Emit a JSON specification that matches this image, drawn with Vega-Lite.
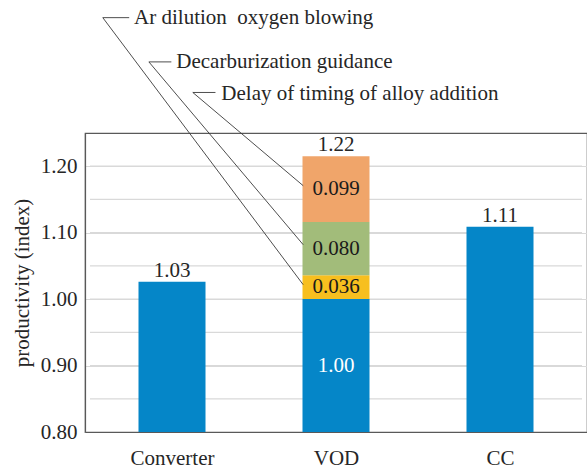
{
  "$schema": "https://vega.github.io/schema/vega-lite/v6.json",
  "width": 502,
  "height": 299,
  "autosize": {"type": "none"},
  "padding": {"left": 85, "top": 133, "right": 0, "bottom": 41},
  "background": "white",
  "config": {
    "font": "Liberation Serif",
    "view": {"stroke": "#595959", "strokeWidth": 1.2},
    "style": {
      "guide-label": {"font": "Liberation Serif", "fontSize": 21, "fill": "#262626"},
      "guide-title": {"font": "Liberation Serif", "fontSize": 21, "fontWeight": "normal", "fill": "#262626"}
    },
    "axis": {"labelFont": "Liberation Serif", "titleFont": "Liberation Serif", "labelFontSize": 21, "titleFontSize": 21, "titleFontWeight": "normal", "labelColor": "#262626", "titleColor": "#262626", "ticks": false, "domainColor": "#595959", "domainWidth": 1.2},
    "axisX": {"grid": false, "labelPadding": 15},
    "axisY": {"grid": true, "gridColor": "#d9d9d9", "gridWidth": 1.2, "labelOverlap": false, "labelPadding": 8, "titlePadding": 8},
    "text": {"font": "Liberation Serif", "fontSize": 21, "color": "#262626"}
  },
  "datasets": {
    "gridlines": [
      {"tick": 0.85}, {"tick": 0.9}, {"tick": 0.95}, {"tick": 1.0}, {"tick": 1.05},
      {"tick": 1.1}, {"tick": 1.15}, {"tick": 1.2}
    ],
    "bars": [
      {"process": "Converter", "segment": "base", "start": 0.8, "end": 1.026, "label": ""},
      {"process": "VOD", "segment": "base", "start": 0.8, "end": 1.0, "label": "1.00"},
      {"process": "VOD", "segment": "Ar dilution oxygen blowing", "start": 1.0, "end": 1.036, "label": "0.036"},
      {"process": "VOD", "segment": "Decarburization guidance", "start": 1.036, "end": 1.116, "label": "0.080"},
      {"process": "VOD", "segment": "Delay of timing of alloy addition", "start": 1.116, "end": 1.215, "label": "0.099"},
      {"process": "CC", "segment": "base", "start": 0.8, "end": 1.109, "label": ""}
    ],
    "totals": [
      {"process": "Converter", "total": 1.026, "label": "1.03"},
      {"process": "VOD", "total": 1.215, "label": "1.22"},
      {"process": "CC", "total": 1.109, "label": "1.11"}
    ],
    "leaders": [
      {"note": "Ar", "step": 1, "pos": 0.239, "level": 1.4236},
      {"note": "Ar", "step": 2, "pos": 0.078, "level": 1.4236},
      {"note": "Ar", "step": 3, "pos": 1.3, "level": 1.0217},
      {"note": "Decarb", "step": 1, "pos": 0.496, "level": 1.357},
      {"note": "Decarb", "step": 2, "pos": 0.359, "level": 1.357},
      {"note": "Decarb", "step": 3, "pos": 1.3, "level": 1.0819},
      {"note": "Delay", "step": 1, "pos": 0.765, "level": 1.311},
      {"note": "Delay", "step": 2, "pos": 0.627, "level": 1.311},
      {"note": "Delay", "step": 3, "pos": 1.3, "level": 1.1707}
    ],
    "notes": [
      {"text": "Ar dilution\u00a0 oxygen blowing", "pos": 0.269, "level": 1.4236},
      {"text": "Decarburization guidance", "pos": 0.526, "level": 1.357},
      {"text": "Delay of timing of alloy addition", "pos": 0.801, "level": 1.308}
    ]
  },
  "layer": [
    {
      "data": {"name": "gridlines"},
      "mark": {"type": "rule", "color": "#d9d9d9", "strokeWidth": 1.2},
      "encoding": {
        "x": {"datum": 0, "type": "quantitative", "scale": {"domain": [0, 3], "nice": false, "zero": false}},
        "x2": {"datum": 3},
        "y": {"field": "tick", "type": "quantitative", "scale": {"domain": [0.8, 1.25], "nice": false, "zero": false}}
      }
    },
    {
      "data": {"name": "bars"},
      "transform": [{"calculate": "indexof(['Converter', 'VOD', 'CC'], datum.process) + 0.5", "as": "pos"}],
      "mark": {"type": "bar", "width": 67},
      "encoding": {
        "x": {
          "field": "pos", "type": "quantitative",
          "scale": {"domain": [0, 3], "nice": false, "zero": false},
          "axis": {"title": null, "values": [0.5, 1.5, 2.5], "labelExpr": "datum.value < 1 ? 'Converter' : datum.value < 2 ? 'VOD' : 'CC'", "ticks": false, "labelPadding": 15, "labelFont": "Liberation Serif", "labelFontSize": 21, "labelColor": "#262626", "domainColor": "#595959", "domainWidth": 1.2, "grid": false}
        },
        "y": {
          "field": "start", "type": "quantitative",
          "scale": {"domain": [0.8, 1.25], "nice": false, "zero": false},
          "axis": {
            "values": [0.8, 0.85, 0.9, 0.95, 1.0, 1.05, 1.1, 1.15, 1.2, 1.25],
            "format": ".2f", "ticks": false, "labelPadding": 8, "labelOverlap": false,
            "labelFont": "Liberation Serif", "labelFontSize": 21, "labelColor": "#262626",
            "title": "productivity (index)", "titleFont": "Liberation Serif", "titleFontSize": 21, "titleFontWeight": "normal", "titleColor": "#262626", "titlePadding": 8,
            "grid": true, "gridColor": "#d9d9d9", "gridWidth": 1.2,
            "domainColor": "#595959", "domainWidth": 1.2
          }
        },
        "y2": {"field": "end"},
        "color": {
          "field": "segment", "type": "nominal",
          "scale": {
            "domain": ["base", "Ar dilution oxygen blowing", "Decarburization guidance", "Delay of timing of alloy addition"],
            "range": ["#0586c8", "#f7bf1f", "#a2bc7a", "#f0a56a"]
          },
          "legend": null
        }
      }
    },
    {
      "data": {"name": "bars"},
      "transform": [
        {"filter": "datum.label != ''"},
        {"calculate": "indexof(['Converter', 'VOD', 'CC'], datum.process) + 0.5", "as": "pos"},
        {"calculate": "(datum.start + datum.end) / 2", "as": "mid"}
      ],
      "mark": {"type": "text", "baseline": "middle", "fontSize": 21},
      "encoding": {
        "x": {"field": "pos", "type": "quantitative"},
        "y": {"field": "mid", "type": "quantitative"},
        "text": {"field": "label"},
        "color": {"condition": {"test": "datum.segment == 'base'", "value": "white"}, "value": "#1a1a1a"}
      }
    },
    {
      "data": {"name": "totals"},
      "transform": [{"calculate": "indexof(['Converter', 'VOD', 'CC'], datum.process) + 0.5", "as": "pos"}],
      "mark": {"type": "text", "baseline": "alphabetic", "dy": -5, "fontSize": 21},
      "encoding": {
        "x": {"field": "pos", "type": "quantitative"},
        "y": {"field": "total", "type": "quantitative"},
        "text": {"field": "label"}
      }
    },
    {
      "data": {"name": "leaders"},
      "mark": {"type": "line", "color": "#3a3a3a", "strokeWidth": 0.9},
      "encoding": {
        "x": {"field": "pos", "type": "quantitative"},
        "y": {"field": "level", "type": "quantitative"},
        "detail": {"field": "note"},
        "order": {"field": "step"}
      }
    },
    {
      "data": {"name": "notes"},
      "mark": {"type": "text", "align": "left", "baseline": "middle", "fontSize": 21},
      "encoding": {
        "x": {"field": "pos", "type": "quantitative"},
        "y": {"field": "level", "type": "quantitative"},
        "text": {"field": "text"}
      }
    }
  ]
}
